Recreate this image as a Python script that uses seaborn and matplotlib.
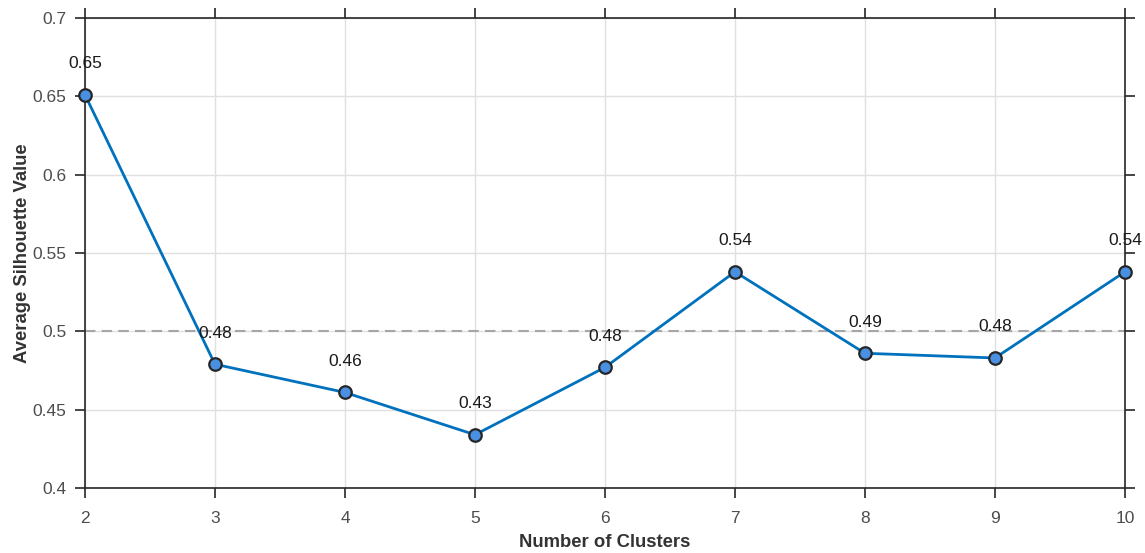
import matplotlib
matplotlib.use("Agg")
import matplotlib.pyplot as plt
import seaborn as sns
import pandas as pd

# Silhouette scores per cluster count
clusters = [2, 3, 4, 5, 6, 7, 8, 9, 10]
silhouette = [0.651, 0.479, 0.461, 0.434, 0.477, 0.538, 0.486, 0.483, 0.538]
reference_level = 0.5

sns.set_theme(style="white")
plt.rcParams["font.family"] = ["Liberation Sans", "DejaVu Sans"]

df = pd.DataFrame({"k": clusters, "s": silhouette})

fig = plt.figure(figsize=(11.45, 5.53), dpi=100)
ax = fig.add_axes([0.0742, 0.1175, 0.9083, 0.85])

ax.axhline(reference_level, color="#a6a6a6", linestyle=(0, (5, 3)), linewidth=1.5, zorder=1)

sns.lineplot(data=df, x="k", y="s", ax=ax, color="#0072BD", linewidth=2,
             marker="o", markersize=9, markerfacecolor="#4a90e2",
             markeredgecolor="#262626", markeredgewidth=1.6, zorder=3)
for line in ax.lines:
    line.set_clip_on(False)

for k, s in zip(clusters, silhouette):
    ax.annotate(f"{s:.2f}", (k, s), xytext=(0, 17), textcoords="offset points",
                ha="center", va="bottom", fontsize=12.5, color="#1a1a1a")

ax.set_xlim(2, 10)
ax.set_ylim(0.4, 0.7)
ax.set_xticks(clusters)
ax.set_yticks([0.4, 0.45, 0.5, 0.55, 0.6, 0.65, 0.7])
ax.set_yticklabels(["0.4", "0.45", "0.5", "0.55", "0.6", "0.65", "0.7"])

ax.grid(True, color="#e0e0e0", linewidth=1)
ax.set_axisbelow(True)

for sp in ax.spines.values():
    sp.set_color("#262626")
    sp.set_linewidth(1.2)
    sp.set_zorder(2)

ax.tick_params(axis="both", direction="out", length=7, width=1.2, color="#262626",
               labelsize=12.5, labelcolor="#4d4d4d",
               top=True, right=True, bottom=True, left=True,
               labeltop=False, labelright=False)
ax.tick_params(axis="x", pad=9.5)
ax.tick_params(axis="y", pad=6.5)

ax.set_xlabel("Number of Clusters", fontsize=13.3, fontweight="bold", color="#333333", labelpad=6)
ax.set_ylabel("Average Silhouette Value", fontsize=13.3, fontweight="bold", color="#333333", labelpad=1)

fig.savefig("out.png", dpi=100)
